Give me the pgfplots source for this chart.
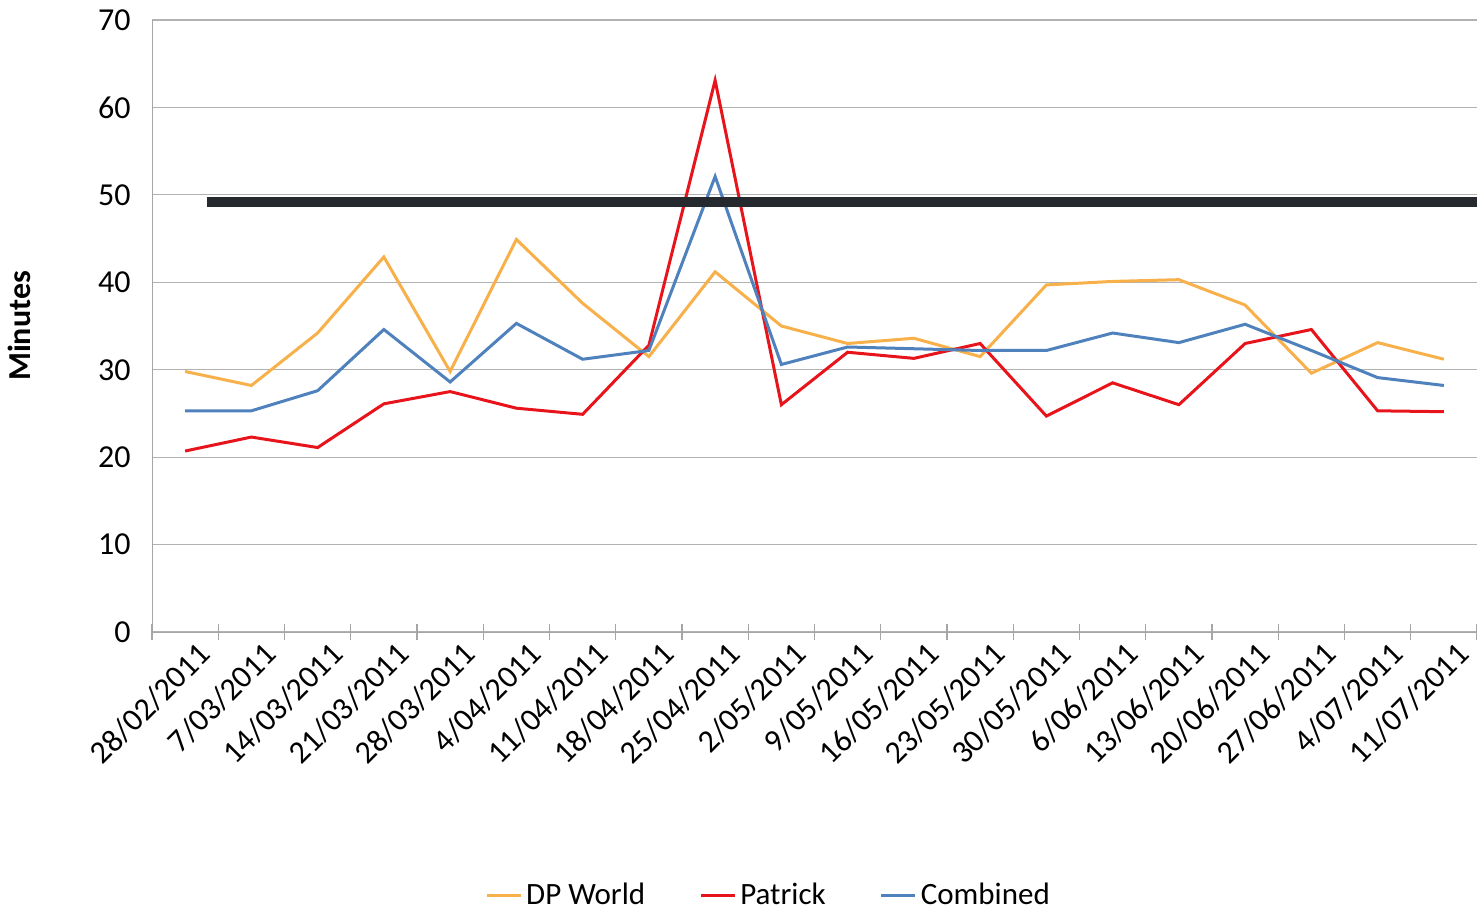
\documentclass[border=0pt]{standalone}
\usepackage{pgfplots}
\pgfplotsset{compat=1.18}
\usepackage{fontspec}
\setmainfont{Carlito}
\definecolor{dpw}{HTML}{F7B04A}
\definecolor{pat}{HTML}{E8141B}
\definecolor{com}{HTML}{4F81BD}
\begin{document}
\begin{tikzpicture}
\begin{axis}[
  anchor=south west, at={(0,0)},
  scale only axis, width=662.5pt, height=306pt,
  xmin=-0.5, xmax=19.5, ymin=0, ymax=70,
  ytick={0,10,...,70},
  axis lines=left, axis line style={gray!70,-},
  ymajorgrids, grid style={gray!60, line width=0.6pt},
  xtick={0,...,19},
  xticklabels={28/02/2011,7/03/2011,14/03/2011,21/03/2011,28/03/2011,4/04/2011,11/04/2011,18/04/2011,25/04/2011,2/05/2011,9/05/2011,16/05/2011,23/05/2011,30/05/2011,6/06/2011,13/06/2011,20/06/2011,27/06/2011,4/07/2011,11/07/2011},
  x tick label style={rotate=45, anchor=north east, font=\fontsize{16}{19}\selectfont, xshift=6pt, yshift=-2pt},
  y tick label style={font=\fontsize{16}{19}\selectfont, xshift=-5pt},
  /pgf/number format/assume math mode=true,
  major x tick style={draw=none},
  minor xtick={-0.5,0.5,...,19.5},
  minor x tick style={gray!70, line width=0.6pt},
  minor tick length=8pt,
  ytick style={draw=none},
  ylabel={\textbf{Minutes}}, ylabel style={font=\fontsize{16}{19}\selectfont, yshift=27pt},
  legend columns=3,
  legend style={at={(0.466,-0.43)}, anchor=center, draw=none, font=\fontsize{15.5}{18}\selectfont, /tikz/every even column/.append style={column sep=25pt}},
  legend image code/.code={\draw[#1] (0cm,0cm) -- (0.6cm,0cm);},
]
\addplot[dpw, line width=1.5pt] coordinates {(0,29.8)(1,28.2)(2,34.2)(3,42.9)(4,29.8)(5,44.9)(6,37.6)(7,31.5)(8,41.2)(9,35.0)(10,33.0)(11,33.6)(12,31.5)(13,39.7)(14,40.1)(15,40.3)(16,37.4)(17,29.6)(18,33.1)(19,31.2)};
\addlegendentry{DP World}
\addplot[pat, line width=1.5pt] coordinates {(0,20.7)(1,22.3)(2,21.1)(3,26.1)(4,27.5)(5,25.6)(6,24.9)(7,32.8)(8,63.1)(9,26.0)(10,32.0)(11,31.3)(12,33.0)(13,24.7)(14,28.5)(15,26.0)(16,33.0)(17,34.6)(18,25.3)(19,25.2)};
\addlegendentry{Patrick}
\addplot[com, line width=1.5pt] coordinates {(0,25.3)(1,25.3)(2,27.6)(3,34.6)(4,28.6)(5,35.3)(6,31.2)(7,32.2)(8,52.1)(9,30.6)(10,32.6)(11,32.4)(12,32.2)(13,32.2)(14,34.2)(15,33.1)(16,35.2)(17,32.2)(18,29.1)(19,28.2)};
\addlegendentry{Combined}
\addplot[color={rgb,255:red,38;green,42;blue,46}, line width=5pt, forget plot] coordinates {(0.33,49.2)(19.5,49.2)};
\end{axis}
\pgfresetboundingbox
\path (-76pt,-140pt) rectangle (662.5pt,316pt);
\end{tikzpicture}
\end{document}
